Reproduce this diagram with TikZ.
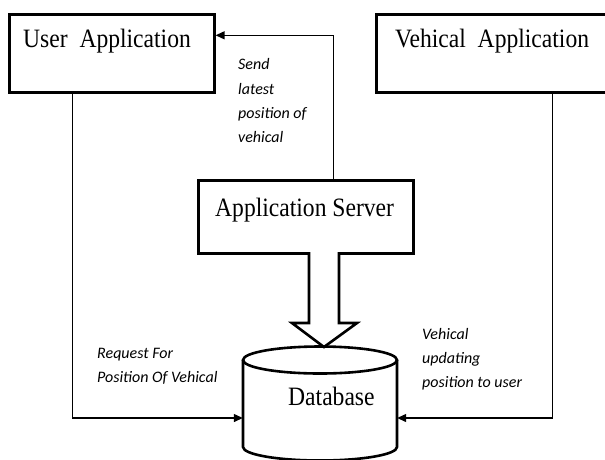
\documentclass[tikz,border=0pt]{standalone}
\usepackage{fontspec}
\setmainfont{Liberation Serif}
\newfontfamily\boxfont[FakeStretch=0.89]{Liberation Serif}
\newfontfamily\notefont{Carlito}
\usetikzlibrary{arrows.meta}
\begin{document}
\begin{tikzpicture}[x=1pt,y=-1pt,
  box/.style={draw, line width=2.6pt, rectangle, inner sep=0pt, anchor=north west},
  boxlabel/.style={font=\boxfont\fontsize{26.5}{30}\selectfont, anchor=base west, inner sep=0pt},
  note/.style={font=\notefont\itshape\fontsize{16}{18}\selectfont, anchor=base west, inner sep=0pt},
  conn/.style={line width=1.3pt, -{Triangle[length=9pt,width=8pt]}},
  heavy/.style={line width=2.6pt}]
\useasboundingbox (0,0) rectangle (605,459);
\clip (0,0) rectangle (605,459);
\fill[white] (0,0) rectangle (605,459);

% application boxes
\node[box, minimum width=205pt, minimum height=78pt] (user) at (8,13) {};
\node[box, minimum width=245pt, minimum height=78pt] (vehicle) at (375,13) {};
\node[box, minimum width=215pt, minimum height=73pt] (server) at (197,179) {};
\node[boxlabel] (userlbl) at (23,47) {User\ \ Application};
\node[boxlabel] (vehiclelbl) at (395,47) {Vehical\ \ Application};
\node[boxlabel] (serverlbl) at (215,216) {Application Server};

% database cylinder
\node[minimum width=154pt, minimum height=113pt, inner sep=0pt] (db) at (320,403.5) {};
\draw[heavy] (320,360) ellipse [x radius=77pt, y radius=13.5pt];
\draw[heavy] (243,360) -- (243,447)
  arc[start angle=180, end angle=360, x radius=77pt, y radius=13.5pt] -- (397,360);
\node[boxlabel] (dblbl) at (288,405) {Database};

% block arrow from server to database
\draw[heavy, line join=miter, fill=white]
  (309,252) -- (309,323) -- (292,323) -- (324,347) -- (357,323) -- (339,323) -- (339,252);

% connectors
\draw[conn] ([xshift=27.5pt]server.north) |- ([yshift=18pt]user.east);
\draw[conn] ([xshift=-39.5pt]user.south) |- ([yshift=-14.5pt]db.west);
\draw[conn] ([xshift=53.5pt]vehicle.south) |- ([yshift=-14.5pt]db.east);

% connector notes
\node[note] (s1) at (238,69) {Send};
\node[note] (s2) at (238,94) {latest};
\node[note] (s3) at (238,118) {position of};
\node[note] (s4) at (238,142) {vehical};
\node[note] (r1) at (97,358) {Request For};
\node[note] (r2) at (97,382) {Position Of Vehical};
\node[note] (v1) at (422,339) {Vehical};
\node[note] (v2) at (422,363) {updating};
\node[note] (v3) at (422,387) {position to user};
\end{tikzpicture}
\end{document}
